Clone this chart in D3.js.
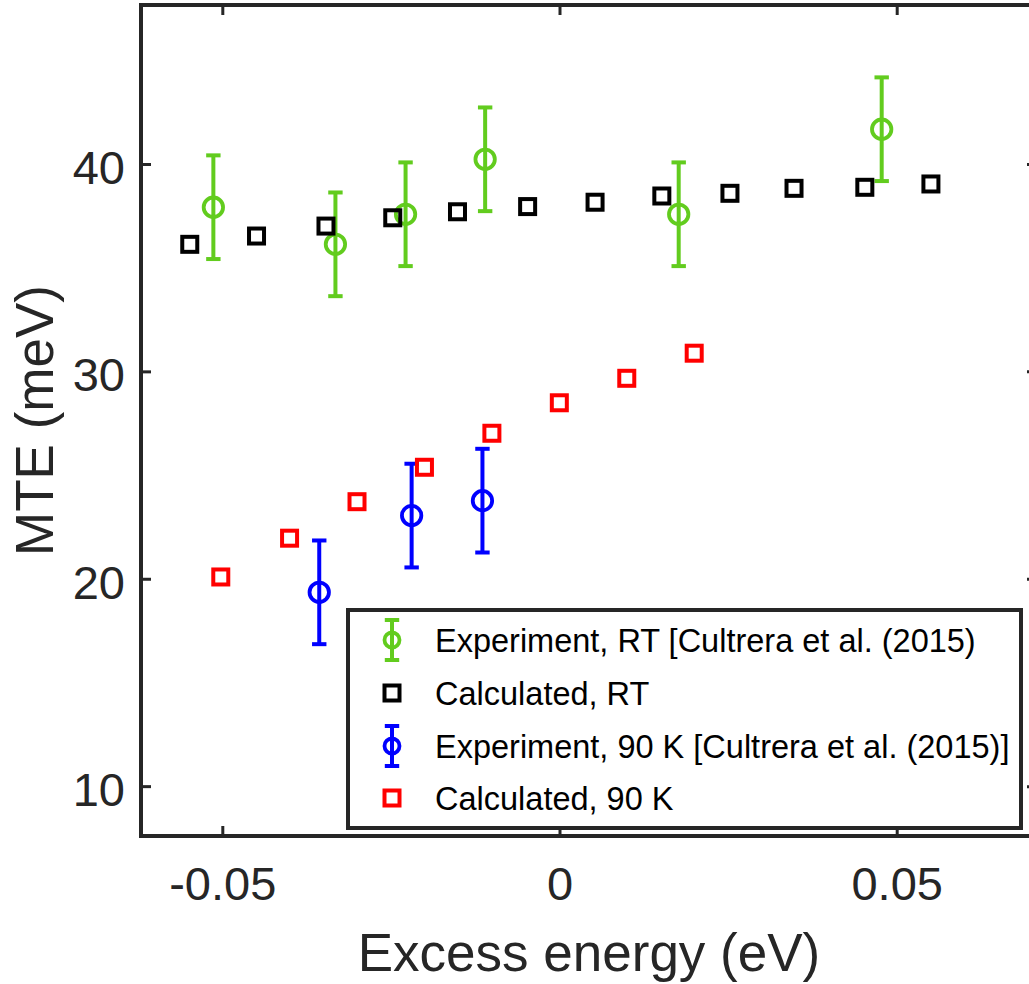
<!DOCTYPE html>
<html>
<head>
<meta charset="utf-8">
<script src="https://cdn.jsdelivr.net/npm/d3@7"></script>
<style>
html,body{margin:0;padding:0;background:#fff;}
svg{display:block;font-family:"Liberation Sans",Arial,Helvetica,sans-serif;}
</style>
</head>
<body>
<svg id="chart" width="1029" height="984"></svg>
<script>
// ---- data ----
const xTicks = [-0.05, 0, 0.05];
const yTicks = [10, 20, 30, 40];

const expRT_x = [-0.0514, -0.0333, -0.0229, -0.0111, 0.0176, 0.0477];
const expRT_y = [37.94, 36.15, 37.60, 40.25, 37.60, 41.70];
const expRT_err = [2.5, 2.5, 2.5, 2.5, 2.5, 2.5];

const calcRT_x = [-0.0549, -0.0450, -0.0347, -0.0248, -0.0152, -0.0048, 0.0052, 0.0151, 0.0252, 0.0347, 0.0452, 0.0550];
const calcRT_y = [36.15, 36.55, 37.03, 37.43, 37.72, 37.97, 38.18, 38.48, 38.61, 38.85, 38.90, 39.06];

const exp90_x = [-0.0357, -0.0220, -0.0115];
const exp90_y = [19.37, 23.07, 23.79];
const exp90_err = [2.5, 2.5, 2.5];

const calc90_x = [-0.0503, -0.0401, -0.0301, -0.0201, -0.0101, -0.0001, 0.0099, 0.0199];
const calc90_y = [20.11, 21.98, 23.74, 25.40, 27.04, 28.51, 29.69, 30.90];

const legendLabels = [
  "Experiment, RT [Cultrera et al. (2015)",
  "Calculated, RT",
  "Experiment, 90 K [Cultrera et al. (2015)]",
  "Calculated, 90 K"
];

// ---- layout ----
const svg = d3.select("#chart");
const L = 141, R = 1037, T = 5, B = 836;
const x = d3.scaleLinear().domain([-0.06213, 0.07073]).range([L, R]);
const y = d3.scaleLinear().domain([7.62, 47.69]).range([B, T]);
const axisColor = "#262626";
const green = "#62cc1e", blue = "#0000ff", red = "#ff0000", black = "#000000";

// frame
svg.append("rect").attr("x", L).attr("y", T).attr("width", R - L).attr("height", B - T)
  .attr("fill", "none").attr("stroke", axisColor).attr("stroke-width", 4);

// ticks
const tl = 10;
xTicks.forEach(t => {
  svg.append("line").attr("x1", x(t)).attr("x2", x(t)).attr("y1", B).attr("y2", B - tl)
    .attr("stroke", axisColor).attr("stroke-width", 3);
  svg.append("line").attr("x1", x(t)).attr("x2", x(t)).attr("y1", T).attr("y2", T + tl)
    .attr("stroke", axisColor).attr("stroke-width", 3);
  svg.append("text").attr("x", x(t)).attr("y", 900).attr("text-anchor", "middle")
    .attr("font-size", 47).attr("fill", axisColor).text(String(t));
});
yTicks.forEach(t => {
  svg.append("line").attr("x1", L).attr("x2", L + tl).attr("y1", y(t)).attr("y2", y(t))
    .attr("stroke", axisColor).attr("stroke-width", 3);
  svg.append("line").attr("x1", R).attr("x2", R - tl).attr("y1", y(t)).attr("y2", y(t))
    .attr("stroke", axisColor).attr("stroke-width", 3);
  svg.append("text").attr("x", 125).attr("y", y(t) + 19.5).attr("text-anchor", "end")
    .attr("font-size", 47).attr("fill", axisColor).text(String(t));
});

// axis labels
svg.append("text").attr("x", (L + R) / 2).attr("y", 971).attr("text-anchor", "middle")
  .attr("font-size", 53).attr("fill", axisColor).text("Excess energy (eV)");
svg.append("text").attr("transform", `translate(53,${(T + B) / 2}) rotate(-90)`)
  .attr("text-anchor", "middle").attr("font-size", 53).attr("fill", axisColor).text("MTE (meV)");

// ---- marks ----
const sq = 15, cr = 9.7, cap = 7.2, sw = 4;

function errorSeries(xs, ys, es, color) {
  const g = svg.append("g");
  xs.forEach((xv, i) => {
    const cx = x(xv), cy = y(ys[i]), top = y(ys[i] + es[i]), bot = y(ys[i] - es[i]);
    g.append("line").attr("x1", cx).attr("x2", cx).attr("y1", top).attr("y2", bot)
      .attr("stroke", color).attr("stroke-width", sw);
    g.append("line").attr("x1", cx - cap).attr("x2", cx + cap).attr("y1", top).attr("y2", top)
      .attr("stroke", color).attr("stroke-width", sw);
    g.append("line").attr("x1", cx - cap).attr("x2", cx + cap).attr("y1", bot).attr("y2", bot)
      .attr("stroke", color).attr("stroke-width", sw);
    g.append("circle").attr("cx", cx).attr("cy", cy).attr("r", cr)
      .attr("fill", "none").attr("stroke", color).attr("stroke-width", 3.8);
  });
}
function squareSeries(xs, ys, color) {
  svg.append("g").selectAll("rect").data(xs.map((xv, i) => [xv, ys[i]])).join("rect")
    .attr("x", d => x(d[0]) - sq / 2).attr("y", d => y(d[1]) - sq / 2)
    .attr("width", sq).attr("height", sq)
    .attr("fill", "none").attr("stroke", color).attr("stroke-width", sw);
}

errorSeries(expRT_x, expRT_y, expRT_err, green);
squareSeries(calcRT_x, calcRT_y, black);
errorSeries(exp90_x, exp90_y, exp90_err, blue);
squareSeries(calc90_x, calc90_y, red);

// ---- legend ----
const lg = svg.append("g");
lg.append("rect").attr("x", 348).attr("y", 610).attr("width", 673).attr("height", 218)
  .attr("fill", "#fff").attr("stroke", axisColor).attr("stroke-width", 4);
const ly = [640, 693, 746, 798];
const mx = 392;
const lcolors = [green, black, blue, red];
const ltypes = ["err", "sq", "err", "sq"];
legendLabels.forEach((lab, i) => {
  const c = lcolors[i], yy = ly[i];
  if (ltypes[i] === "err") {
    lg.append("line").attr("x1", mx).attr("x2", mx).attr("y1", yy - 20).attr("y2", yy + 20)
      .attr("stroke", c).attr("stroke-width", sw);
    [yy - 20, yy + 20].forEach(v => lg.append("line").attr("x1", mx - cap).attr("x2", mx + cap)
      .attr("y1", v).attr("y2", v).attr("stroke", c).attr("stroke-width", sw));
    lg.append("circle").attr("cx", mx).attr("cy", yy).attr("r", 7.5)
      .attr("fill", "none").attr("stroke", c).attr("stroke-width", 3.8);
  } else {
    lg.append("rect").attr("x", mx - sq / 2).attr("y", yy - sq / 2).attr("width", sq).attr("height", sq)
      .attr("fill", "none").attr("stroke", c).attr("stroke-width", sw);
  }
  lg.append("text").attr("x", 435).attr("y", yy + 11.5).attr("font-size", 32.5)
    .attr("fill", "#000").text(lab);
});
</script>
</body>
</html>
